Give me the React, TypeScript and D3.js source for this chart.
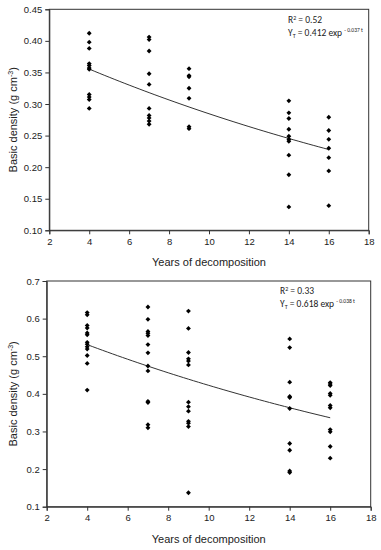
import * as d3 from "d3";
import { useEffect, useRef } from "react";

const years = [4, 7, 9, 14, 16];
const xTicks = [2, 4, 6, 8, 10, 12, 14, 16, 18];

// basic density per sampling year (top panel)
const topDensity = [
  [0.412, 0.398, 0.388, 0.364, 0.361, 0.357, 0.355, 0.315, 0.311, 0.307, 0.293],
  [0.406, 0.402, 0.384, 0.348, 0.331, 0.293, 0.282, 0.278, 0.273, 0.268],
  [0.356, 0.345, 0.343, 0.325, 0.309, 0.264, 0.261],
  [0.305, 0.286, 0.277, 0.260, 0.249, 0.244, 0.241, 0.219, 0.188, 0.137],
  [0.279, 0.258, 0.244, 0.230, 0.215, 0.194, 0.139],
];
const topTicks = [0.1, 0.15, 0.2, 0.25, 0.3, 0.35, 0.4, 0.45];
const topFit = { a: 0.412, b: 0.037, r2: "0.52" };

// bottom panel
const bottomDensity = [
  [0.616, 0.610, 0.582, 0.575, 0.562, 0.557, 0.537, 0.532, 0.525, 0.519, 0.502, 0.481, 0.410],
  [0.631, 0.598, 0.566, 0.561, 0.555, 0.531, 0.509, 0.474, 0.461, 0.380, 0.377, 0.318, 0.310],
  [0.620, 0.574, 0.510, 0.493, 0.487, 0.477, 0.378, 0.366, 0.354, 0.327, 0.322, 0.313, 0.137],
  [0.546, 0.523, 0.431, 0.393, 0.390, 0.361, 0.268, 0.250, 0.195, 0.191],
  [0.430, 0.426, 0.422, 0.401, 0.396, 0.369, 0.363, 0.305, 0.299, 0.260, 0.229],
];
const bottomTicks = [0.1, 0.2, 0.3, 0.4, 0.5, 0.6, 0.7];
const bottomFit = { a: 0.618, b: 0.038, r2: "0.33" };

const tickFont = "'Liberation Sans', Arial, sans-serif";
const noteFont = "Carlito, 'Open Sans', 'Liberation Sans', sans-serif";

type Panel = {
  data: number[][];
  yTicks: number[];
  yFmt: string;
  fit: { a: number; b: number; r2: string };
  x0: number;
  x1: number;
  yTop: number;
  yBottom: number;
  noteX: number;
  noteY: number;
};

const drawPanel = (svg: any, p: Panel) => {
  const x = d3.scaleLinear().domain([2, 18]).range([p.x0, p.x1]);
  const y = d3
    .scaleLinear()
    .domain([p.yTicks[0], p.yTicks[p.yTicks.length - 1]])
    .range([p.yBottom, p.yTop]);

  const g = svg.append("g");

  // frame
  g.append("rect")
    .attr("x", p.x0)
    .attr("y", p.yTop)
    .attr("width", p.x1 - p.x0)
    .attr("height", p.yBottom - p.yTop)
    .attr("fill", "none")
    .attr("stroke", "#333")
    .attr("stroke-width", 1);

  const yAxis = g
    .append("g")
    .attr("transform", `translate(${p.x0},0)`)
    .call(d3.axisLeft(y).tickValues(p.yTicks).tickFormat(d3.format(p.yFmt)).tickSize(4).tickPadding(3));
  const xAxis = g
    .append("g")
    .attr("transform", `translate(0,${p.yBottom})`)
    .call(d3.axisBottom(x).tickValues(xTicks).tickSize(4).tickPadding(4));

  [yAxis, xAxis].forEach((ax) => {
    ax.select(".domain").attr("stroke", "#333");
    ax.selectAll("line").attr("stroke", "#333");
    ax.selectAll("text")
      .attr("font-family", tickFont)
      .attr("font-size", 9.5)
      .attr("fill", "#222");
  });

  // axis titles
  g.append("text")
    .attr("x", (p.x0 + p.x1) / 2)
    .attr("y", p.yBottom + 36)
    .attr("text-anchor", "middle")
    .attr("font-family", tickFont)
    .attr("font-size", 11)
    .attr("fill", "#222")
    .text("Years of decomposition");

  const yt = g
    .append("text")
    .attr("transform", `translate(17,${(p.yTop + p.yBottom) / 2}) rotate(-90)`)
    .attr("text-anchor", "middle")
    .attr("font-family", tickFont)
    .attr("font-size", 11)
    .attr("fill", "#222");
  yt.append("tspan").text("Basic density (g cm");
  yt.append("tspan").attr("dy", -4).attr("font-size", 7).text("-3");
  yt.append("tspan").attr("dy", 4).text(")");

  // fitted curve
  const ts = d3.range(4, 16.01, 0.25);
  const line = d3
    .line<number>()
    .x((t) => x(t))
    .y((t) => y(p.fit.a * Math.exp(-p.fit.b * t)));
  g.append("path")
    .datum(ts)
    .attr("d", line)
    .attr("fill", "none")
    .attr("stroke", "#333")
    .attr("stroke-width", 1);

  // points
  const pts = years.flatMap((yr, i) => p.data[i].map((v) => ({ t: yr, v })));
  const sym = d3.symbol().type(d3.symbolDiamond2).size(15);
  g.selectAll("path.pt")
    .data(pts)
    .join("path")
    .attr("class", "pt")
    .attr("transform", (d: any) => `translate(${x(d.t)},${y(d.v)})`)
    .attr("d", sym as any)
    .attr("fill", "#000");

  // equation note
  const note = g
    .append("g")
    .attr("font-family", noteFont)
    .attr("font-size", 9.5)
    .attr("fill", "#222");
  const r = note.append("text").attr("x", p.noteX).attr("y", p.noteY);
  r.append("tspan").text("R");
  r.append("tspan").attr("dy", -3).attr("font-size", 6).text("2");
  r.append("tspan").attr("dy", 3).text(` = ${p.fit.r2}`);
  const e = note.append("text").attr("x", p.noteX).attr("y", p.noteY + 13);
  e.append("tspan").text("Y");
  e.append("tspan").attr("dy", 1.5).attr("font-size", 6).text("T");
  e.append("tspan").attr("dy", -1.5).text(` = ${p.fit.a} exp `);
  e.append("tspan").attr("dy", -4).attr("font-size", 5.5).text(`- ${p.fit.b} t`);
};

const App = () => {
  const ref = useRef<SVGSVGElement>(null);

  useEffect(() => {
    const svg = d3.select(ref.current);
    svg.selectAll("*").remove();

    drawPanel(svg, {
      data: topDensity,
      yTicks: topTicks,
      yFmt: ".2f",
      fit: topFit,
      x0: 49.3,
      x1: 368.7,
      yTop: 9.3,
      yBottom: 230.3,
      noteX: 288,
      noteY: 23,
    });
    drawPanel(svg, {
      data: bottomDensity,
      yTicks: bottomTicks,
      yFmt: ".1f",
      fit: bottomFit,
      x0: 46.7,
      x1: 370.7,
      yTop: 281,
      yBottom: 506.7,
      noteX: 280,
      noteY: 294,
    });
  }, []);

  return (
    <svg
      ref={ref}
      width={381}
      height={550}
      style={{ position: "absolute", left: 0, top: 0, background: "#fff" }}
    />
  );
};

export default App;
